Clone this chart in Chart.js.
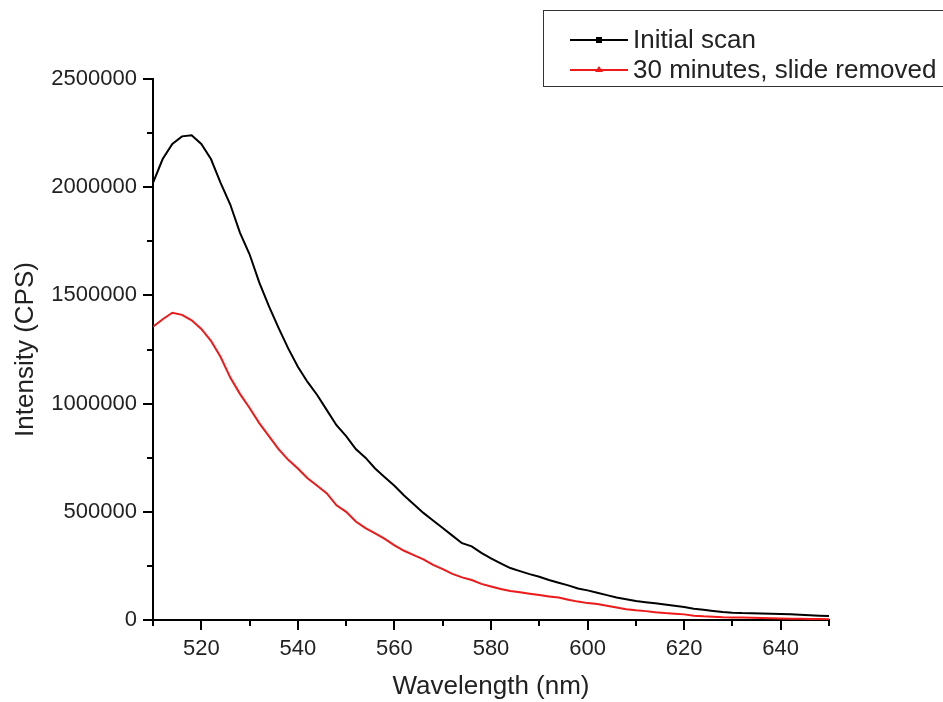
<!DOCTYPE html>
<html>
<head>
<meta charset="utf-8">
<script src="https://cdn.jsdelivr.net/npm/chart.js@4.4.0/dist/chart.umd.min.js"></script>
<style>
  html, body { margin: 0; background: #fff; }
  #wrap { width: 943px; height: 702px; }
</style>
</head>
<body>
<div id="wrap"><canvas id="chart" width="943" height="702"></canvas></div>
<script>
// wavelength (nm), every 2 nm
const wavelengths = [
  510, 512, 514, 516, 518, 520, 522, 524, 526, 528,
  530, 532, 534, 536, 538, 540, 542, 544, 546, 548,
  550, 552, 554, 556, 558, 560, 562, 564, 566, 568,
  570, 572, 574, 576, 578, 580, 582, 584, 586, 588,
  590, 592, 594, 596, 598, 600, 602, 604, 606, 608,
  610, 612, 614, 616, 618, 620, 622, 624, 626, 628,
  630, 632, 634, 636, 638, 640, 642, 644, 646, 648, 650
];
// intensity in CPS
const initialScan = [
  2020000, 2130000, 2200000, 2235000, 2240000, 2200000, 2130000, 2020000, 1920000, 1790000,
  1690000, 1560000, 1450000, 1350000, 1255000, 1170000, 1100000, 1040000, 970000, 900000,
  850000, 790000, 750000, 700000, 660000, 620000, 575000, 535000, 495000, 460000,
  425000, 390000, 355000, 340000, 310000, 285000, 262000, 240000, 226000, 212000,
  200000, 185000, 172000, 160000, 146000, 137000, 126000, 115000, 104000, 96000,
  88000, 82000, 77000, 72000, 66000, 60000, 52000, 47000, 42000, 37000,
  34000, 32000, 31000, 30000, 29000, 28000, 26000, 24000, 22000, 20000, 18000
];
const slideRemoved = [
  1355000, 1390000, 1420000, 1410000, 1385000, 1345000, 1290000, 1215000, 1120000, 1045000,
  980000, 910000, 850000, 790000, 740000, 700000, 655000, 620000, 585000, 530000,
  500000, 455000, 425000, 400000, 375000, 345000, 320000, 300000, 280000, 255000,
  235000, 213000, 197000, 185000, 167000, 155000, 143000, 134000, 128000, 121000,
  115000, 109000, 104000, 94000, 85000, 78000, 74000, 66000, 58000, 50000,
  45000, 41000, 36000, 32000, 29000, 26000, 20000, 17000, 15000, 13000,
  12000, 11000, 10000, 9000, 8000, 7000, 6000, 6000, 5000, 5000, 4000
];
const seriesNames = ["Initial scan", "30 minutes, slide removed"];
const seriesColors = ["#000000", "#f01818"];
const xTicks = [520, 540, 560, 580, 600, 620, 640];
const xMinorTicks = [510, 530, 550, 570, 590, 610, 630, 650];
const yTicks = [0, 500000, 1000000, 1500000, 2000000, 2500000];
const yMinorTicks = [250000, 750000, 1250000, 1750000, 2250000];

const FONT = "'Liberation Sans', Arial, sans-serif";
const TEXT = "#222";

// outward tick marks, long for labelled ticks, short for minor ones
const tickMarks = {
  id: "tickMarks",
  afterDraw(chart) {
    const { ctx, scales: { x, y }, chartArea } = chart;
    ctx.save();
    ctx.strokeStyle = "#000";
    ctx.lineWidth = 2;
    const drawX = (vals, len) => vals.forEach(v => {
      const px = Math.round(x.getPixelForValue(v));
      ctx.beginPath();
      ctx.moveTo(px, chartArea.bottom);
      ctx.lineTo(px, chartArea.bottom + len);
      ctx.stroke();
    });
    const drawY = (vals, len) => vals.forEach(v => {
      const py = Math.round(y.getPixelForValue(v));
      ctx.beginPath();
      ctx.moveTo(chartArea.left, py);
      ctx.lineTo(chartArea.left - len, py);
      ctx.stroke();
    });
    drawX(xTicks, 10);
    drawX(xMinorTicks, 6);
    drawY(yTicks, 10);
    drawY(yMinorTicks, 6);
    ctx.restore();
  }
};

// boxed legend in the top right corner
const boxLegend = {
  id: "boxLegend",
  afterDraw(chart) {
    const { ctx } = chart;
    ctx.save();
    ctx.strokeStyle = "#333";
    ctx.lineWidth = 1;
    ctx.strokeRect(543.5, 10.5, 420, 76);
    ctx.font = "26px " + FONT;
    ctx.textBaseline = "middle";
    chart.data.datasets.forEach((ds, i) => {
      const yy = 40 + i * 30;
      ctx.strokeStyle = ds.borderColor;
      ctx.lineWidth = 2;
      ctx.beginPath();
      ctx.moveTo(570, yy);
      ctx.lineTo(628, yy);
      ctx.stroke();
      ctx.fillStyle = ds.borderColor;
      if (i === 0) {
        ctx.fillRect(596, yy - 3, 6, 6);
      } else {
        ctx.beginPath();
        ctx.moveTo(599, yy - 4);
        ctx.lineTo(603, yy + 2);
        ctx.lineTo(595, yy + 2);
        ctx.closePath();
        ctx.fill();
      }
      ctx.fillStyle = TEXT;
      ctx.fillText(ds.label, 633, yy + 1);
    });
    ctx.restore();
  }
};

new Chart(document.getElementById("chart"), {
  type: "line",
  data: {
    datasets: [
      {
        label: seriesNames[0],
        data: wavelengths.map((w, i) => ({ x: w, y: initialScan[i] })),
        borderColor: seriesColors[0],
        borderWidth: 2,
        pointRadius: 0,
        tension: 0
      },
      {
        label: seriesNames[1],
        data: wavelengths.map((w, i) => ({ x: w, y: slideRemoved[i] })),
        borderColor: seriesColors[1],
        borderWidth: 2,
        pointRadius: 0,
        tension: 0
      }
    ]
  },
  options: {
    responsive: false,
    animation: false,
    layout: { padding: { top: 79, right: 114, left: 0, bottom: 0 } },
    plugins: {
      legend: { display: false },
      tooltip: { enabled: false }
    },
    scales: {
      x: {
        type: "linear",
        min: 510,
        max: 650,
        afterBuildTicks: (scale) => { scale.ticks = xTicks.map(v => ({ value: v })); },
        afterFit: (scale) => { scale.height = 82; },
        grid: { display: false, drawTicks: false },
        border: { color: "#000", width: 2 },
        ticks: { padding: 16, color: TEXT, font: { family: FONT, size: 22 }, maxRotation: 0 },
        title: {
          display: true,
          text: "Wavelength (nm)",
          color: TEXT,
          font: { family: FONT, size: 26 },
          padding: { top: 0, bottom: 0 }
        }
      },
      y: {
        min: 0,
        max: 2500000,
        afterBuildTicks: (scale) => { scale.ticks = yTicks.map(v => ({ value: v })); },
        afterFit: (scale) => { scale.width = 153; },
        grid: { display: false, drawTicks: false },
        border: { color: "#000", width: 2 },
        ticks: { padding: 16, color: TEXT, font: { family: FONT, size: 22 }, callback: (v) => String(v) },
        title: {
          display: true,
          text: "Intensity (CPS)",
          color: TEXT,
          font: { family: FONT, size: 26 },
          padding: { top: 10, bottom: 0 }
        }
      }
    }
  },
  plugins: [tickMarks, boxLegend]
});
</script>
</body>
</html>
